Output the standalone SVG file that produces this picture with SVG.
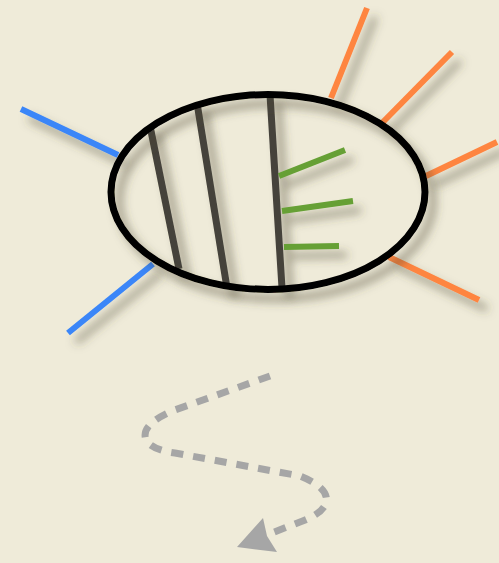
<svg xmlns="http://www.w3.org/2000/svg" width="499" height="563" viewBox="0 0 499 563">
<defs>
<filter id="sh" x="-30%" y="-30%" width="170%" height="170%">
<feDropShadow dx="8" dy="9" stdDeviation="5" flood-color="#4a4430" flood-opacity="0.5"/>
</filter>
<style>
.b{stroke:#3a86f8;stroke-width:6;fill:none}
.o{stroke:#fe8540;stroke-width:6;fill:none}
.g{stroke:#45423a;stroke-width:7;fill:none}
.gr{stroke:#66a035;stroke-width:6;fill:none}
</style>
</defs>
<rect width="499" height="563" fill="#efebd9"/>
<g id="connectors" filter="url(#sh)">
<line class="b" x1="21" y1="109" x2="118" y2="155"/>
<line class="b" x1="68" y1="333" x2="153" y2="264"/>
<line class="o" x1="367" y1="8" x2="331" y2="98"/>
<line class="o" x1="452" y1="52" x2="382" y2="123"/>
<line class="o" x1="497" y1="142" x2="426" y2="176"/>
<line class="o" x1="389" y1="257" x2="479" y2="300"/>
<line class="g" x1="150" y1="126" x2="179" y2="269"/>
<line class="g" x1="197" y1="103" x2="227" y2="288"/>
<line class="g" x1="270" y1="95" x2="282" y2="288"/>
<line class="gr" x1="279" y1="176" x2="345" y2="150"/>
<line class="gr" x1="282" y1="211" x2="353" y2="201"/>
<line class="gr" x1="284" y1="247" x2="339" y2="246"/>
</g>
<g id="ellipse" filter="url(#sh)">
<ellipse cx="268" cy="192" rx="157" ry="97.5" fill="none" stroke="#000" stroke-width="7"/>
</g>
<g id="arrow">
<path d="M270,376 L172,411 Q140,425 146,440 Q152,450 175,453 L300,476 Q330,488 326,503 Q322,514 300,522 L264,536" fill="none" stroke="#a6a6a6" stroke-width="7" stroke-dasharray="12,10"/>
<path d="M237,547 L263,518 L267,536 L277,552 Z" fill="#a6a6a6"/>
</g>
</svg>
